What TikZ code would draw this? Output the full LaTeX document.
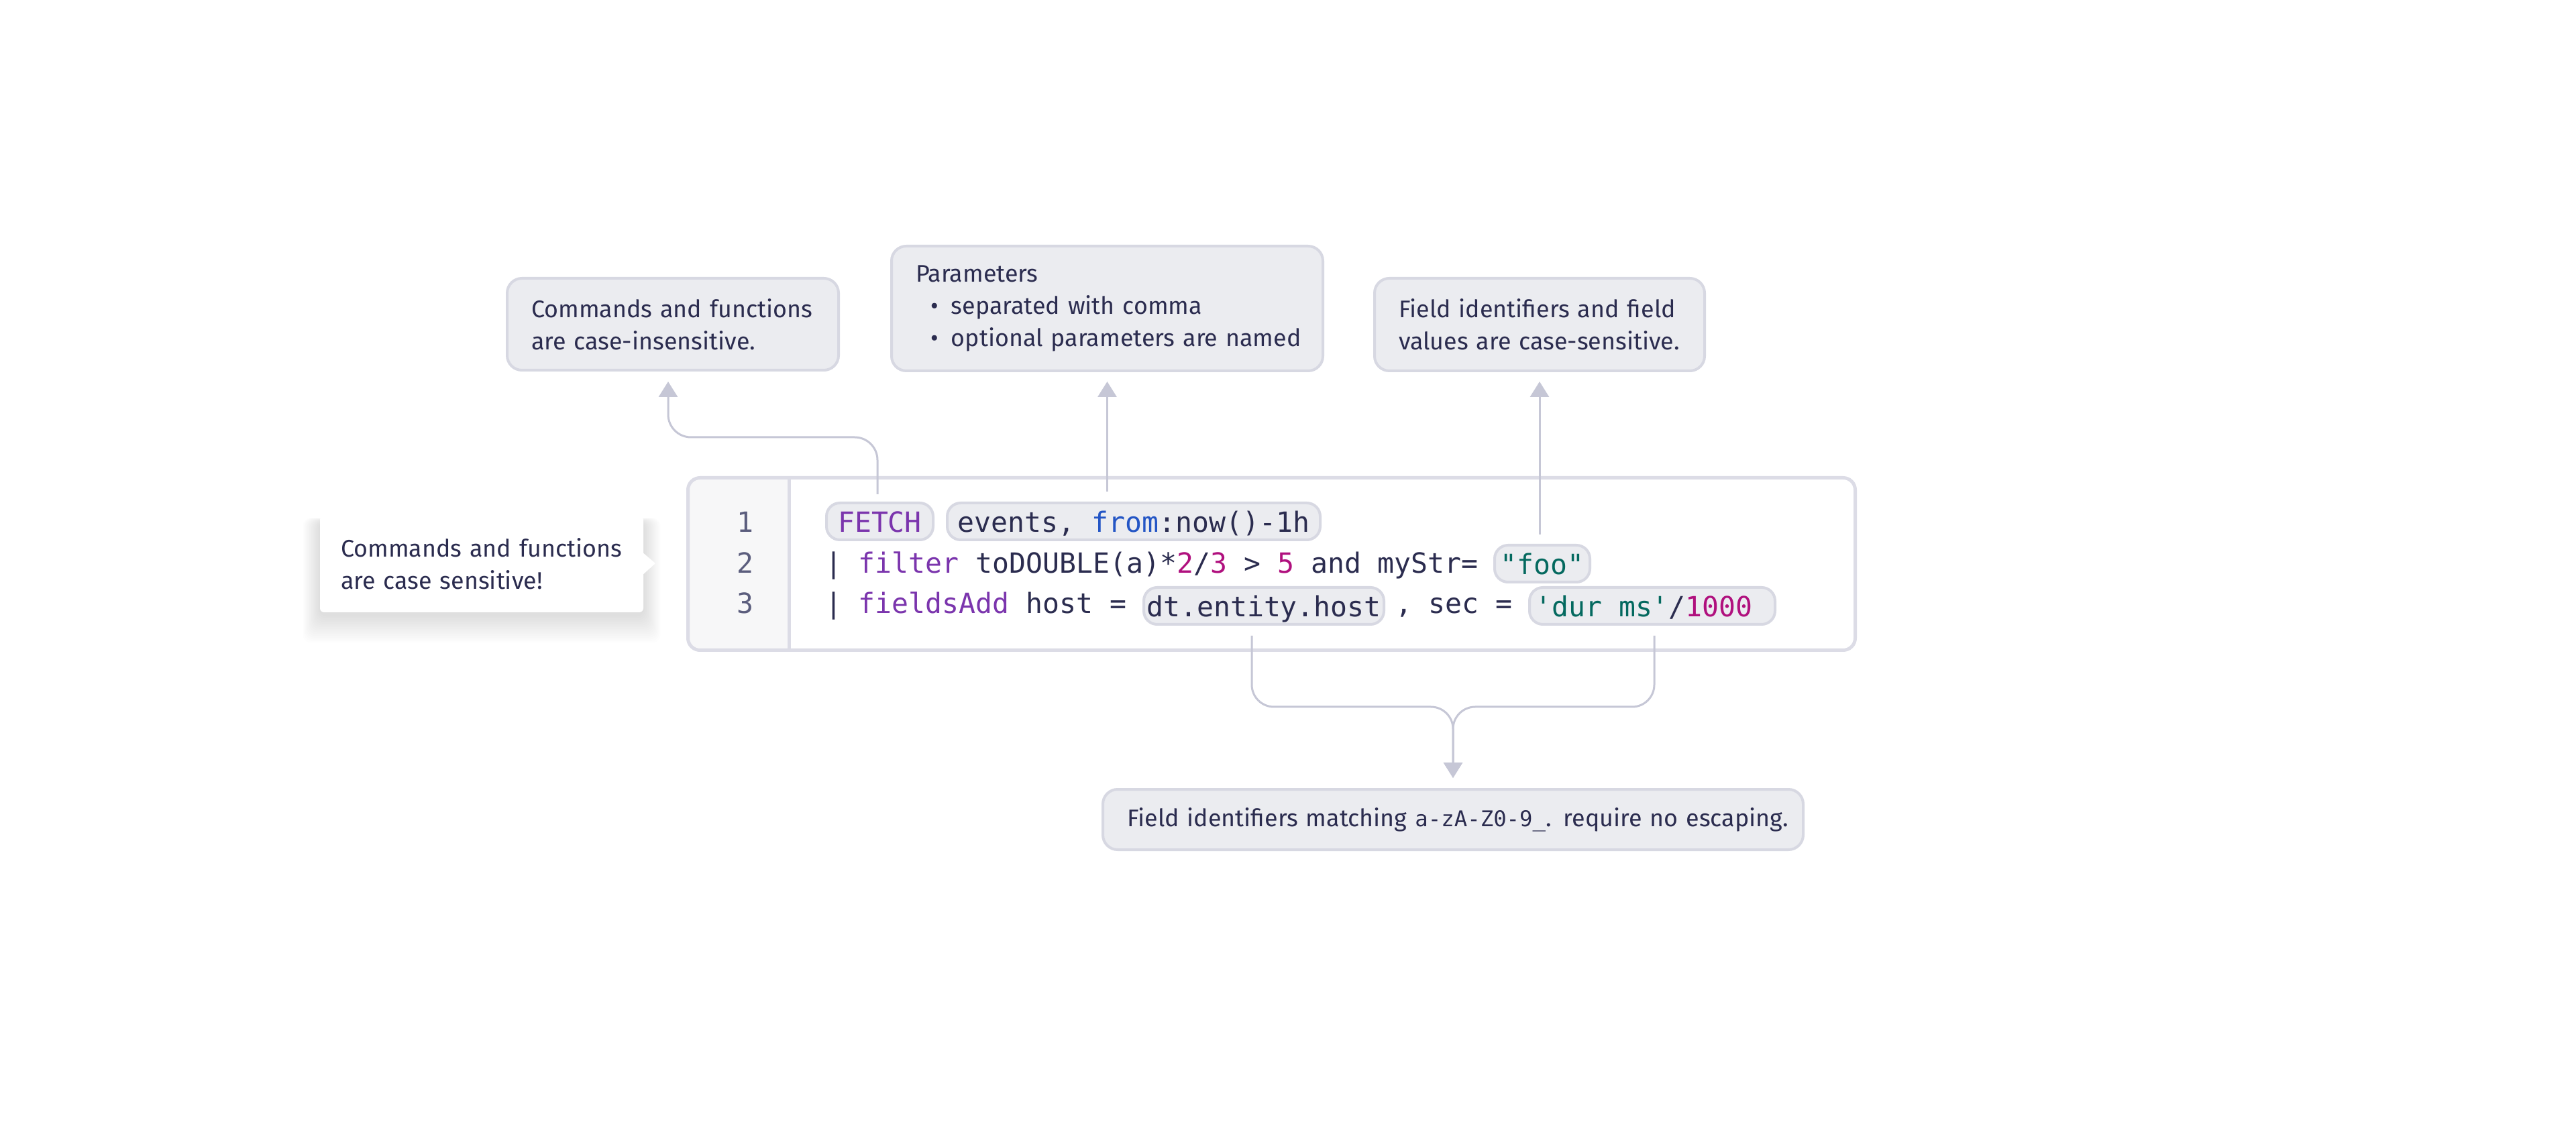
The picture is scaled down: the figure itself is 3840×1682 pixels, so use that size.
\documentclass[tikz,border=0pt]{standalone}
\usepackage{fontspec}
\setmainfont{Fira Sans}
\setmonofont{DejaVu Sans Mono}
\usetikzlibrary{arrows.meta,calc}
\pgfdeclarelayer{bg}
\pgfsetlayers{bg,main}
\definecolor{ink}{HTML}{2B2C4F}
\definecolor{boxfill}{HTML}{EBECF0}
\definecolor{boxline}{HTML}{D7D8E2}
\definecolor{codeline}{HTML}{DCDCE6}
\definecolor{gutter}{HTML}{F7F7F8}
\definecolor{connc}{HTML}{C6C7D6}
\definecolor{kw}{HTML}{7B35AD}
\definecolor{kwblue}{HTML}{2355C5}
\definecolor{num}{HTML}{B0107E}
\definecolor{str}{HTML}{04695F}
\definecolor{lnum}{HTML}{5B5D7D}
\newcommand\notesize{\fontsize{10.2pt}{13.66pt}\selectfont}
\newcommand\codesize{\fontsize{11.8pt}{14pt}\selectfont}
\begin{document}
\begin{tikzpicture}[x=0.1mm,y=-0.1mm,
  abox/.style={draw=boxline, fill=boxfill, line width=0.4mm, rounded corners=2.2mm,
    inner xsep=3.6mm, inner ysep=0pt, outer sep=0pt, text=ink, align=left, font=\notesize},
  pill/.style={draw=boxline, fill=boxfill, line width=0.4mm, rounded corners=2mm,
    inner sep=0pt, outer sep=0pt, minimum height=5.5mm, text height=3.3mm, text depth=0mm,
    text=ink, font=\ttfamily\codesize},
  codetxt/.style={inner sep=0pt, outer sep=0pt, anchor=base west, text=ink, font=\ttfamily\codesize},
  lnumtxt/.style={inner sep=0pt, outer sep=0pt, anchor=base, text=lnum, font=\ttfamily\codesize},
  conn/.style={draw=connc, line width=0.3mm, -{Triangle[width=2.8mm,length=2.3mm]}},
]
\useasboundingbox (0,0) rectangle (3840,1682);
\begin{pgfonlayer}{bg}
\fill[white] (0,0) rectangle (3840,1682);
\end{pgfonlayer}

% annotation boxes
\node[abox, text width=42.2mm, minimum height=13.7mm] (box1) at (1003,483.5)
  {\mbox{Commands and functions}\\\mbox{are case-insensitive.}};
\node[abox, text width=57.1mm, minimum height=18.6mm] (box2) at (1650.5,460)
  {\mbox{Parameters}\\\mbox{\hspace*{2.2mm}\makebox[3.1mm][l]{\textbullet}separated with comma}\\\mbox{\hspace*{2.2mm}\makebox[3.1mm][l]{\textbullet}optional parameters are named}};
\node[abox, text width=42.0mm, minimum height=13.8mm] (box3) at (2295,484)
  {\mbox{Field identifiers and field}\\\mbox{values are case-sensitive.}};
\node[abox, text width=97.2mm, minimum height=9.0mm, align=center] (bot) at (2166,1222)
  {\mbox{Field identifiers matching {\ttfamily\fontsize{9.2pt}{12pt}\selectfont a-zA-Z0-9\_}. require no escaping.}};

% tooltip
\node[fill=white, rounded corners=0.6mm, inner xsep=3.1mm, inner ysep=0pt, outer sep=0pt,
  text width=42.0mm, minimum height=14.4mm, align=left, text=ink, font=\notesize]
  (tip) at (718,841) {\mbox{Commands and functions}\\\mbox{are case sensitive!}};
\fill[white] ($(tip.east)+(-2,-18)$) -- ($(tip.east)+(18,-1)$) -- ($(tip.east)+(-2,17)$) -- cycle;
\begin{pgfonlayer}{bg}
\foreach \i in {1,...,16} {
  \fill[black, opacity=0.0065, rounded corners=1.2mm]
    ($(tip.north west)+(-1.6*\i, 8-0.3*\i)$) rectangle ($(tip.south east)+(1.6*\i, 4+2.6*\i)$);
}
\end{pgfonlayer}

% code box
\node[inner sep=0pt, outer sep=0pt, minimum width=174mm, minimum height=25.7mm] (code) at (1895.5,841) {};
\fill[white, rounded corners=1.8mm] (code.north west) rectangle (code.south east);
\begin{scope}
  \clip[rounded corners=1.8mm] (code.north west) rectangle (code.south east);
  \fill[gutter] (code.north west) rectangle (1176,969.5);
\end{scope}
\draw[codeline, line width=0.5mm] (1176,712.5) -- (1176,969.5);
\draw[codeline, line width=0.5mm, rounded corners=1.8mm] (code.north west) rectangle (code.south east);

% line numbers
\node[lnumtxt] (n1) at (1111,794) {1};
\node[lnumtxt] (n2) at (1111,855) {2};
\node[lnumtxt] (n3) at (1111,915) {3};

% line 1
\node[pill, minimum width=15.9mm] (fetch) at (1311.5,777.5) {\textcolor{kw}{FETCH}};
\node[pill, minimum width=55.6mm] (ev) at (1690,777.5) {events, \textcolor{kwblue}{from}:now()-1h};

% line 2
\node[codetxt] (l2) at (1230,855) {| \textcolor{kw}{filter} toDOUBLE(a)*\textcolor{num}{2}/\textcolor{num}{3} > \textcolor{num}{5} and myStr=};
\node[pill, minimum width=14.2mm] (foo) at (2299,840.5) {\textcolor{str}{"foo"}};

% line 3
\node[codetxt] (l3a) at (1230,915) {| \textcolor{kw}{fieldsAdd} host =};
\node[pill, minimum width=35.8mm] (dt) at (1884,903.5) {dt.entity.host};
\node[codetxt] (l3b) at (2080,915) {, sec =};
\node[pill, minimum width=36.6mm] (dur) at (2463,903.5) {\textcolor{str}{'dur ms'}/\textcolor{num}{1000}\hspace*{2.5mm}};

% connectors
\draw[conn, rounded corners=3.4mm] ($(fetch.north)+(-3.5,-13)$) |- ($(box1.south)+(-7,100)$) -- ($(box1.south)+(-7,17)$);
\draw[conn] ($(box2.south |- ev.north)+(0,-17)$) -- ($(box2.south)+(0,16)$);
\draw[conn] ($(box3.south |- foo.north)+(0,-16)$) -- ($(box3.south)+(0,16)$);
\draw[conn, rounded corners=3.3mm] ($(dt.south)+(-18,17)$) |- ($(bot.north)+(0,-123)$) -- ($(bot.north)+(0,-17)$);
\draw[conn, rounded corners=3.3mm] ($(dur.south)+(3,17)$) |- ($(bot.north)+(0,-123)$) -- ($(bot.north)+(0,-17)$);
\end{tikzpicture}
\end{document}
